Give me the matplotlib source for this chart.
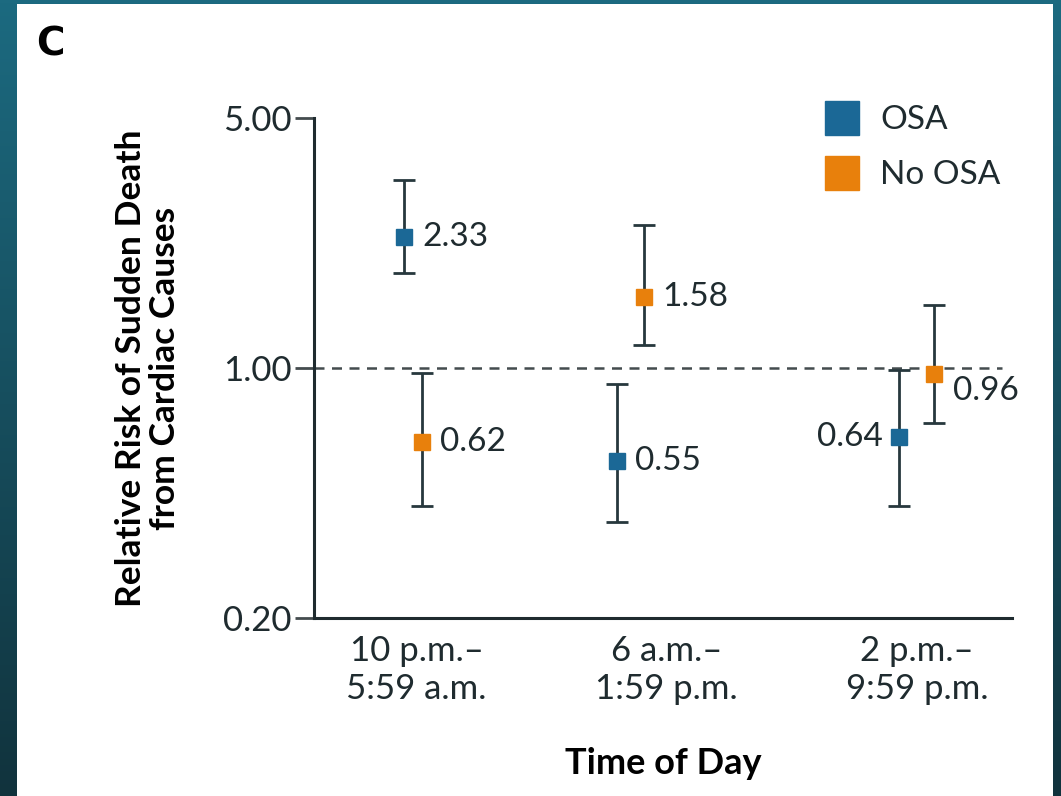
import numpy as np
import matplotlib
matplotlib.use("Agg")
import matplotlib.pyplot as plt
from matplotlib.patches import Rectangle

plt.rcParams['font.family'] = ['Lato', 'DejaVu Sans']

# time-of-day windows
periods = ["10 p.m.\u2013\n5:59 a.m.", "6 a.m.\u2013\n1:59 p.m.", "2 p.m.\u2013\n9:59 p.m."]

# relative risk and 95% CI per group
osa_rr = [2.33, 0.55, 0.64]
osa_lo = [1.84, 0.37, 0.41]
osa_hi = [3.36, 0.90, 0.99]

no_osa_rr = [0.62, 1.58, 0.96]
no_osa_lo = [0.41, 1.16, 0.70]
no_osa_hi = [0.97, 2.51, 1.50]

# horizontal placement of each marker inside its group
osa_shift = [-0.05, -0.20, -0.07]
no_osa_shift = [0.02, -0.09, 0.07]

blue = "#1b6896"
orange = "#e8800c"
ink = "#1f2b2f"

fig = plt.figure(figsize=(10.61, 7.96), dpi=100)

# teal frame with a vertical gradient behind the white panel
bg = fig.add_axes([0, 0, 1, 1], zorder=-10)
grad = np.linspace(0, 1, 256).reshape(-1, 1)
cmap = matplotlib.colors.LinearSegmentedColormap.from_list("frame", ["#1c6a80", "#11333d"])
bg.imshow(grad, aspect="auto", cmap=cmap, extent=[0, 1, 0, 1], origin="upper")
bg.add_patch(Rectangle((17 / 1061, 0), (1053 - 17) / 1061, 1 - 4 / 796,
                       facecolor="white", edgecolor="none"))
bg.set_xlim(0, 1)
bg.set_ylim(0, 1)
bg.axis("off")

ax = fig.add_axes([314 / 1061, 1 - 618 / 796, (1012 - 314) / 1061, 500 / 796])
ax.patch.set_alpha(0)

x = np.arange(len(periods))
ax.set_yscale("log")
ax.set_ylim(0.2, 5.0)
ax.set_xlim(-0.41, 2.38)

ax.axhline(1.0, xmin=0, xmax=(2.34 + 0.41) / 2.79, color="#444c4e", lw=1.8,
           dashes=(4, 3), zorder=1)

xo = x + np.array(osa_shift)
xn = x + np.array(no_osa_shift)

ax.errorbar(xo, osa_rr,
            yerr=[np.array(osa_rr) - np.array(osa_lo), np.array(osa_hi) - np.array(osa_rr)],
            fmt="s", color=blue, ms=11, ecolor="#27383d", elinewidth=2, capsize=8,
            capthick=2, zorder=3)
ax.errorbar(xn, no_osa_rr,
            yerr=[np.array(no_osa_rr) - np.array(no_osa_lo), np.array(no_osa_hi) - np.array(no_osa_rr)],
            fmt="s", color=orange, ms=11, ecolor="#27383d", elinewidth=2, capsize=8,
            capthick=2, zorder=3)

lab_kw = dict(fontsize=24, color=ink, va="center")
for xi, v in zip(xo, osa_rr):
    if v == 0.64:
        ax.annotate(f"{v:.2f}", (xi, v), xytext=(-12, 0), textcoords="offset points",
                    ha="right", **lab_kw)
    else:
        ax.annotate(f"{v:.2f}", (xi, v), xytext=(13, 0), textcoords="offset points",
                    ha="left", **lab_kw)
for xi, v in zip(xn, no_osa_rr):
    dy = -12 if v == 0.96 else 0
    ax.annotate(f"{v:.2f}", (xi, v), xytext=(13, dy), textcoords="offset points",
                ha="left", **lab_kw)

ax.set_yticks([0.2, 1.0, 5.0])
ax.set_yticklabels(["0.20", "1.00", "5.00"])
ax.yaxis.set_minor_locator(matplotlib.ticker.NullLocator())
ax.tick_params(axis="y", length=14, width=2, color="#444c4e", pad=2, labelsize=25,
               labelcolor=ink)
ax.set_xticks(x)
ax.set_xticklabels(periods, linespacing=1.25)
ax.tick_params(axis="x", length=0, pad=12, labelsize=25, labelcolor=ink)

for side in ["top", "right"]:
    ax.spines[side].set_visible(False)
for side in ["left", "bottom"]:
    ax.spines[side].set_linewidth(2.2)
    ax.spines[side].set_color(ink)

ax.set_xlabel("Time of Day", fontsize=26, fontweight="bold", labelpad=30, color="black")
ax.set_ylabel("Relative Risk of Sudden Death\nfrom Cardiac Causes", fontsize=25.5,
              fontweight="bold", labelpad=30, color="black", linespacing=1.1)

# legend as square swatches
leg = ax.legend(handles=[
    plt.Line2D([], [], marker="s", ls="none", color=blue, ms=24, label="OSA"),
    plt.Line2D([], [], marker="s", ls="none", color=orange, ms=24, label="No OSA"),
], loc="upper right", bbox_to_anchor=(1.027, 1.085), frameon=False, fontsize=24,
    handletextpad=0.55, labelspacing=0.75, handlelength=1.2)
for t in leg.get_texts():
    t.set_color(ink)

fig.text(36 / 1061, 1 - 45 / 796, "C", fontsize=28, fontweight="bold", va="center",
         family=["DejaVu Sans"])

fig.savefig("out.png", dpi=100)
